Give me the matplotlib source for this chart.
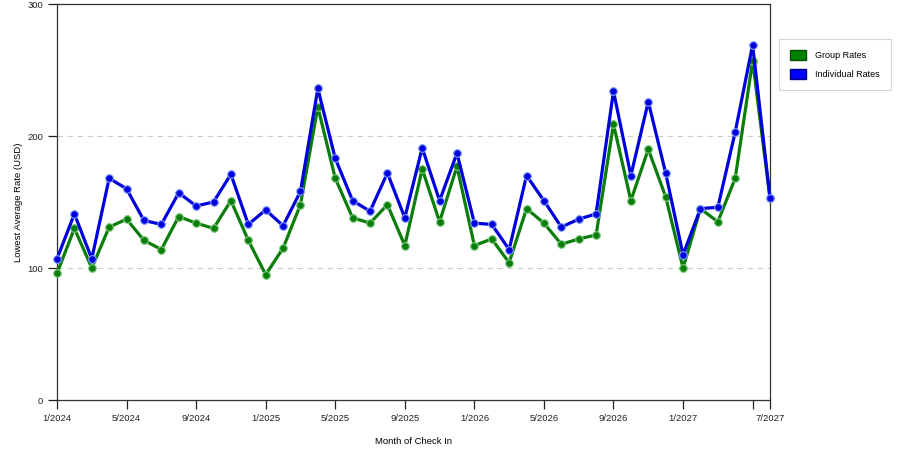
import numpy as np
import matplotlib
matplotlib.use('Agg')
import matplotlib.pyplot as plt
from matplotlib.patches import Patch

plt.rcParams['font.family'] = ['Liberation Sans', 'DejaVu Sans']

# monthly check-in, 1/2024 .. 6/2027
months = ['%d/%d' % (m, y) for y in range(2024, 2028) for m in range(1, 13)][:42]

group_rates = [96, 130, 100, 131, 137, 121, 114, 139, 134, 130, 151, 121,
               95, 115, 148, 222, 168, 138, 134, 148, 117, 175, 135, 177,
               117, 122, 104, 145, 134, 118, 122, 125, 209, 151, 190, 154,
               100, 145, 135, 168, 257, 153]
indiv_rates = [107, 141, 107, 168, 160, 136, 133, 157, 147, 150, 171, 133,
               144, 132, 158, 236, 183, 151, 143, 172, 138, 191, 151, 187,
               134, 133, 114, 170, 151, 131, 137, 141, 234, 170, 226, 172,
               110, 145, 146, 203, 269, 153]

tick_pos = [0, 4, 8, 12, 16, 20, 24, 28, 32, 36, 40, 41]
tick_lbl = ['1/2024', '5/2024', '9/2024', '1/2025', '5/2025', '9/2025',
            '1/2026', '5/2026', '9/2026', '1/2027', '', '7/2027']

green = '#0a7d0a'
blue = '#0000dd'

x = np.arange(len(months))

fig = plt.figure(figsize=(9, 4.5), dpi=100)
ax = fig.add_axes([57/900, 50/450, 713/900, 396/450])

ax.plot(x, group_rates, color=green, lw=2.3, marker='o', ms=5.5,
        mfc=green, mec='#7fc97f', mew=0.8, zorder=3, clip_on=False)
ax.plot(x, indiv_rates, color=blue, lw=2.3, marker='o', ms=5.5,
        mfc=blue, mec='#7f9fff', mew=0.8, zorder=4, clip_on=False)

ax.set_xlim(0, 41)
ax.set_ylim(0, 300)
ax.set_xticks(tick_pos)
ax.set_xticklabels(tick_lbl)
ax.set_yticks([0, 100, 200, 300])
for yy in [100, 200]:
    ax.axhline(yy, color='#cccccc', lw=0.8, ls=(0, (5, 4)), zorder=1)

ax.tick_params(direction='out', length=6.5, width=0.9, labelsize=6.8, pad=3.5, colors='#222222')
for s in ax.spines.values():
    s.set_color('#333333')
    s.set_linewidth(0.9)

ax.set_xlabel('Month of Check In', fontsize=6.8, labelpad=10)
ax.set_ylabel('Lowest Average Rate (USD)', fontsize=6.8, labelpad=3)

handles = [Patch(facecolor='#008000', edgecolor='#005000', label='Group Rates'),
           Patch(facecolor='#0000ff', edgecolor='#000080', label='Individual Rates')]
leg = fig.legend(handles=handles, loc='upper left', bbox_to_anchor=(779/900, 1 - 39/450),
                 fontsize=6.5, handlelength=1.75, handleheight=1.35, handletextpad=1.0,
                 labelspacing=0.9, borderpad=1.25, borderaxespad=0,
                 fancybox=False, frameon=True)
leg.get_frame().set_edgecolor('#cccccc')
leg.get_frame().set_linewidth(0.8)

fig.savefig('out.png', dpi=100)
